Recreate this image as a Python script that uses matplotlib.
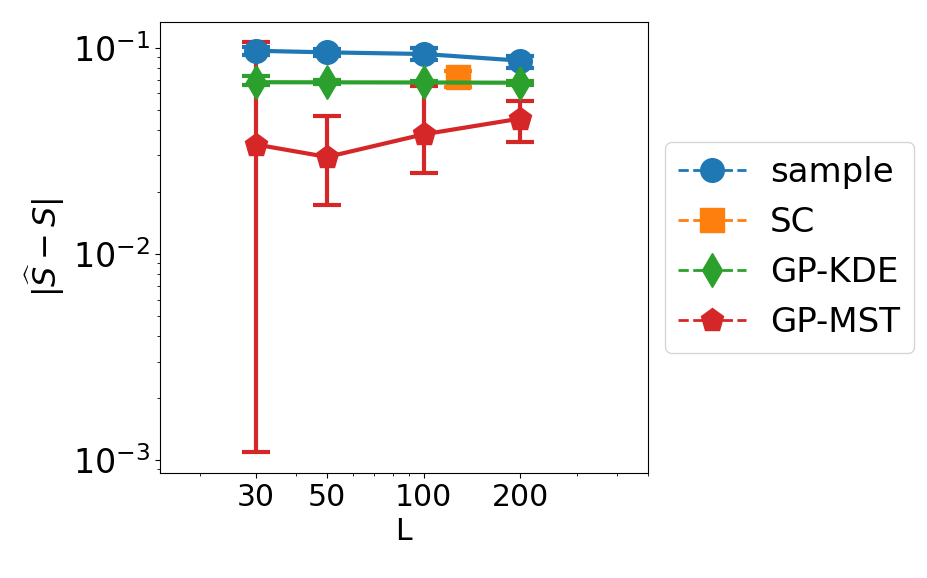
import numpy as np
import matplotlib
matplotlib.use('Agg')
import matplotlib.pyplot as plt
from matplotlib.lines import Line2D
from matplotlib.ticker import NullFormatter

# Data
L = [30, 50, 100, 200]

sample_y = [0.0966, 0.0949, 0.0932, 0.0865]
sample_lo = [0.0920, 0.0915, 0.0873, 0.0795]
sample_hi = [0.1010, 0.0985, 0.0997, 0.0908]

sc_L = [128]
sc_y = [0.0719]
sc_lo = [0.0643]
sc_hi = [0.0774]

kde_y = [0.0680, 0.0679, 0.0678, 0.0676]
kde_lo = [0.0660, 0.0665, 0.0664, 0.0662]
kde_hi = [0.0727, 0.0695, 0.0692, 0.0690]

mst_y = [0.0339, 0.0295, 0.0380, 0.0453]
mst_lo = [0.00109, 0.0172, 0.0248, 0.0349]
mst_hi = [0.1060, 0.0468, 0.0650, 0.0550]

labels = ['sample', 'SC', 'GP-KDE', 'GP-MST']
colors = ['#1f77b4', '#ff7f0e', '#2ca02c', '#d62728']
markers = ['o', 's', 'd', 'p']

plt.rcParams['font.size'] = 21.5

fig = plt.figure(figsize=(9.28, 5.78), dpi=100)
ax = fig.add_axes([0.172, 0.182, 0.526, 0.780])

series = [
    (L, sample_y, sample_lo, sample_hi),
    (sc_L, sc_y, sc_lo, sc_hi),
    (L, kde_y, kde_lo, kde_hi),
    (L, mst_y, mst_lo, mst_hi),
]

for (x, y, lo, hi), c, m in zip(series, colors, markers):
    y = np.array(y)
    err = [y - np.array(lo), np.array(hi) - y]
    ax.errorbar(x, y, yerr=err, color=c, marker=m, markersize=17,
                linewidth=3, elinewidth=3, capsize=10, capthick=3)

ax.set_xscale('log')
ax.set_yscale('log')
ax.set_xlim(15, 500)
ax.set_xticks(L, [str(v) for v in L])
ax.xaxis.set_minor_formatter(NullFormatter())
ax.tick_params(axis='y', labelsize=24)
ax.set_xlabel('L')
ax.set_ylabel(r'$|\widehat{S}-S|$', fontsize=23)

handles = [Line2D([], [], color=c, marker=m, markersize=17, linewidth=2,
                  linestyle='--') for c, m in zip(colors, markers)]
ax.legend(handles, labels, loc='center left', bbox_to_anchor=(1.0, 0.5),
          handlelength=2.0, handletextpad=0.7, fontsize=24.5)

fig.savefig('out.png', dpi=100)
